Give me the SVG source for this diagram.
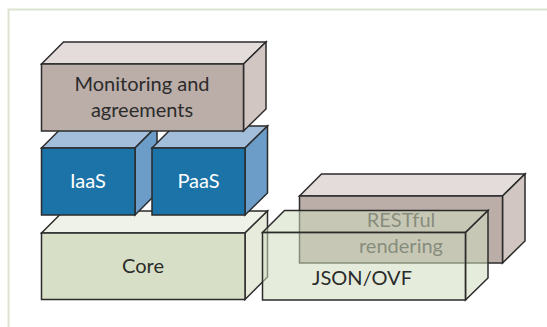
<svg xmlns="http://www.w3.org/2000/svg" width="547" height="327" viewBox="0 0 547 327">
<style>
.e{stroke:#2b2b2b;stroke-width:1.5;stroke-linejoin:miter}
.t{font-family:Lato,"Open Sans","Liberation Sans",sans-serif;font-size:20px;text-anchor:middle}
.dk{fill:#2b2b2b}
.wh{fill:#ffffff}
.mf{fill:#bbaea9}.mt{fill:#e3dcda}.mr{fill:#d2c6c3}
.bf{fill:#1b73a7}.bt{fill:#a3bedb}.br{fill:#6b9dc8}
.cf{fill:#d7e0c6}.ct{fill:#eef2e8}.cr{fill:#e6ebdc}
.jf{fill:#d2dcc0;fill-opacity:0.55}
</style>
<rect x="0" y="0" width="547" height="327" fill="#ffffff"/>
<path d="M8.5 327 V9.5 H547" fill="none" stroke="#dce3cf" stroke-width="2"/>
<g id="core">
<polygon class="e ct" points="41.5,233 63.5,211 267.5,211 245,233"/>
<polygon class="e cr" points="245,233 267.5,211 267.5,277 245,299.5"/>
<rect class="e cf" x="41.5" y="233" width="203.5" height="66.5"/>
<text class="t dk" x="143" y="273.3">Core</text>
</g>
<g id="iaas">
<polygon class="e bt" points="41.5,148 63.5,126 157,126 135,148"/>
<polygon class="e br" points="135,148 157,126 157,193 135,215"/>
<rect class="e bf" x="41.5" y="148" width="93.5" height="67"/>
<text class="t wh" x="88" y="188.3">IaaS</text>
</g>
<g id="paas">
<polygon class="e bt" points="152,148 174,126 267.5,126 245,148"/>
<polygon class="e br" points="245,148 267.5,126 267.5,193 245,215"/>
<rect class="e bf" x="152" y="148" width="93" height="67"/>
<text class="t wh" x="198.5" y="188.3">PaaS</text>
</g>
<g id="monitoring">
<polygon class="e mt" points="41.5,64 63.5,42 266,42 243.5,64"/>
<polygon class="e mr" points="243.5,64 266,42 266,109 243.5,131"/>
<rect class="e mf" x="41.5" y="64" width="202" height="67"/>
<text class="t dk" x="142" y="90.7">Monitoring and</text>
<text class="t dk" x="142" y="116.7">agreements</text>
</g>
<g id="restful">
<polygon class="e mt" points="299.5,196 321.5,174 525,174 502.5,196"/>
<polygon class="e mr" points="502.5,196 525,174 525,241 502.5,263"/>
<rect class="e mf" x="299.5" y="196" width="203" height="67"/>
<text class="t dk" x="401" y="226.7">RESTful</text>
<text class="t dk" x="401" y="253.3">rendering</text>
</g>
<g id="json">
<polygon class="e jf" points="262.5,232.5 284.5,210.5 488,210.5 465.5,232.5"/>
<polygon class="e jf" points="465.5,232.5 488,210.5 488,278 465.5,300"/>
<rect class="e jf" x="262.5" y="232.5" width="203" height="67.5"/>
<text class="t dk" x="362" y="285">JSON/OVF</text>
</g>
<g id="connectors"/>
</svg>
